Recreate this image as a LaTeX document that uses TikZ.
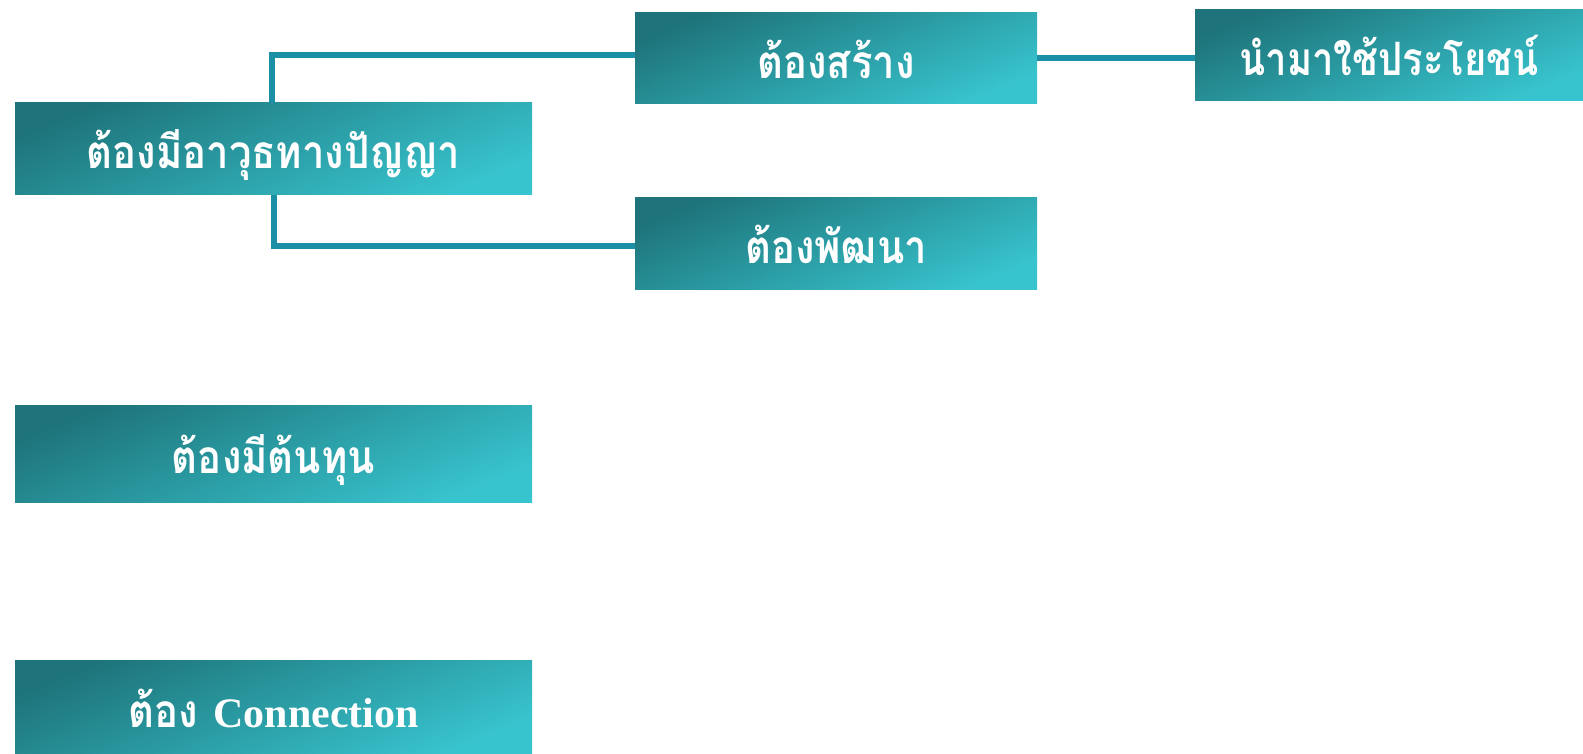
\documentclass[tikz,border=0pt]{standalone}
\usepackage{fontspec}
\newfontfamily\thaifont[Script=Thai]{Loma}
\newfontfamily\latinserif{Liberation Serif}
\definecolor{boxdark}{RGB}{30,116,122}
\definecolor{boxlight}{RGB}{56,196,206}
\definecolor{connteal}{RGB}{27,143,166}
\newcommand{\narrow}[1]{\scalebox{0.87}[1]{#1}}
\tikzset{
  box/.style={rectangle, inner sep=0pt, top color=boxdark, bottom color=boxlight, shading angle=22,
    text=white, text height=40pt, text depth=0pt,
    font=\thaifont\bfseries\fontsize{46}{50}\selectfont},
  conn/.style={draw=connteal, line width=6pt}
}
\begin{document}
\begin{tikzpicture}[x=1pt,y=-1pt]
\useasboundingbox (0,0) rectangle (1583,754);
\node[box, minimum width=517pt, minimum height=92pt] (A) at (273.5,149) {\narrow{ต้องมีอาวุธทางปัญญา}};
\node[box, minimum width=402pt, minimum height=91pt] (B) at (836,58.5) {\narrow{ต้องสร้าง}};
\node[box, minimum width=388pt, minimum height=91pt] (C) at (1389,55.5) {\scalebox{0.83}[1]{นำมาใช้ประโยชน์}};
\node[box, minimum width=402pt, minimum height=92pt] (D) at (836,244) {\narrow{ต้องพัฒนา}};
\node[box, minimum width=517pt, minimum height=97pt] (E) at (273.5,453.5) {\narrow{ต้องมีต้นทุน}};
\node[box, minimum width=517pt, minimum height=94pt] (F) at (273.5,707) {\narrow{ต้อง} {\latinserif\bfseries\fontsize{42}{50}\selectfont Connection}};
\draw[conn] ([xshift=-1.5pt]A.north) |- ([yshift=3pt]B.west);
\draw[conn] ([xshift=0pt]A.south) |- ([yshift=-2pt]D.west);
\draw[conn] (B.east) -- (B.east -| C.west);
\end{tikzpicture}
\end{document}
